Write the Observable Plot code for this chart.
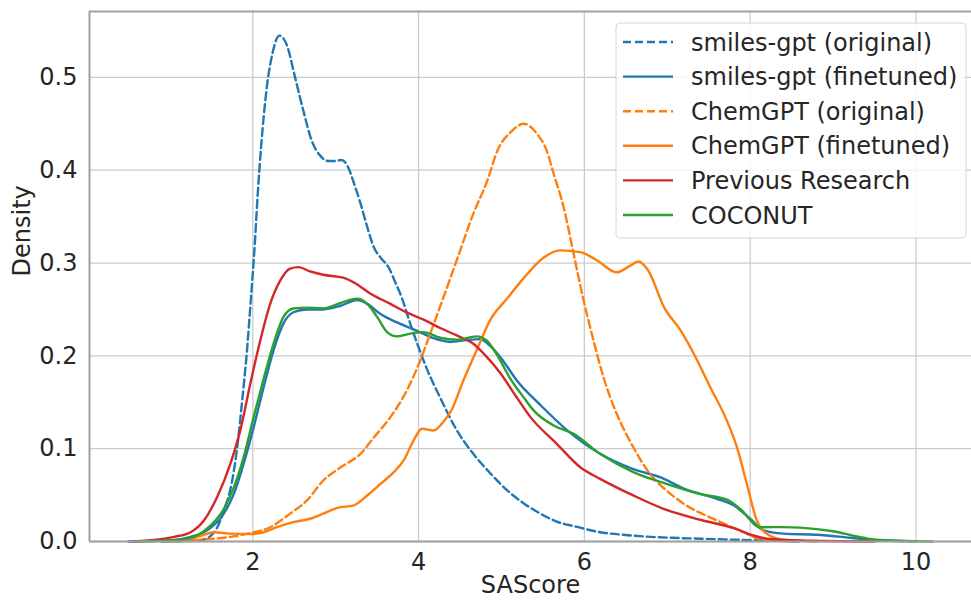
<!DOCTYPE html>
<html>
<head>
<meta charset="utf-8">
<script src="https://cdn.jsdelivr.net/npm/d3@7"></script>
<script src="https://cdn.jsdelivr.net/npm/@observablehq/plot@0.6"></script>
<style>
  html, body { margin: 0; padding: 0; background: #fff; }
  #chart { width: 971px; height: 601px; }
</style>
</head>
<body>
<div id="chart"></div>
<script>
// ---- data ----
const xLabel = "SAScore";
const yLabel = "Density";
const xTicks = [2, 4, 6, 8, 10];
const yTicks = [0, 0.1, 0.2, 0.3, 0.4, 0.5];
const seriesNames = ["smiles-gpt (original)", "smiles-gpt (finetuned)", "ChemGPT (original)", "ChemGPT (finetuned)", "Previous Research", "COCONUT"];
const seriesColors = ["#1f77b4", "#1f77b4", "#ff7f0e", "#ff7f0e", "#d62728", "#2ca02c"];
const seriesDashed = [true, false, true, false, false, false];

const smilesOriginal = [[0.9,0],[1.2,0.0005],[1.4,0.002],[1.55,0.012],[1.65,0.033],[1.75,0.065],[1.81,0.10],[1.87,0.15],[1.93,0.206],[1.98,0.265],[2.02,0.315],[2.06,0.375],[2.1,0.425],[2.17,0.49],[2.24,0.527],[2.32,0.545],[2.41,0.535],[2.51,0.50],[2.61,0.464],[2.71,0.432],[2.81,0.416],[2.91,0.41],[3.0,0.41],[3.07,0.411],[3.14,0.405],[3.22,0.386],[3.30,0.364],[3.38,0.339],[3.46,0.317],[3.54,0.306],[3.64,0.295],[3.72,0.279],[3.80,0.262],[3.88,0.24],[3.98,0.214],[4.10,0.186],[4.26,0.155],[4.46,0.12],[4.66,0.0945],[4.86,0.074],[5.07,0.055],[5.27,0.041],[5.47,0.030],[5.65,0.022],[5.9,0.016],[6.19,0.010],[6.5,0.007],[6.8,0.005],[7.4,0.003],[8.0,0.0015],[8.6,0]];

const smilesFinetuned = [[0.5,0],[1.0,0.001],[1.25,0.005],[1.45,0.012],[1.65,0.030],[1.77,0.051],[1.89,0.084],[2.01,0.123],[2.13,0.166],[2.25,0.206],[2.37,0.235],[2.49,0.247],[2.65,0.25],[2.85,0.25],[3.06,0.254],[3.26,0.26],[3.38,0.256],[3.54,0.245],[3.74,0.236],[3.98,0.227],[4.18,0.219],[4.38,0.215],[4.58,0.217],[4.74,0.218],[4.86,0.211],[5.0,0.197],[5.19,0.173],[5.47,0.147],[5.79,0.12],[6.19,0.0945],[6.59,0.078],[6.92,0.069],[7.20,0.057],[7.60,0.046],[7.80,0.039],[8.0,0.0245],[8.16,0.012],[8.40,0.0085],[8.81,0.0072],[9.21,0.004],[9.6,0.001],[10.0,0]];

const chemOriginal = [[1.0,0],[1.37,0.002],[1.73,0.005],[1.97,0.009],[2.21,0.0154],[2.45,0.030],[2.65,0.044],[2.85,0.0657],[3.06,0.080],[3.30,0.0945],[3.46,0.112],[3.66,0.134],[3.86,0.163],[4.02,0.195],[4.14,0.224],[4.30,0.263],[4.46,0.303],[4.66,0.353],[4.83,0.389],[4.95,0.421],[5.11,0.441],[5.27,0.45],[5.43,0.439],[5.55,0.42],[5.63,0.396],[5.75,0.36],[5.87,0.31],[5.99,0.26],[6.11,0.2166],[6.23,0.177],[6.39,0.1376],[6.59,0.1016],[6.79,0.073],[6.99,0.055],[7.20,0.0406],[7.60,0.0226],[7.92,0.010],[8.1,0.003],[8.5,0]];

const chemFinetuned = [[1.0,0],[1.2,0.002],[1.37,0.006],[1.53,0.010],[1.73,0.0085],[1.97,0.008],[2.13,0.010],[2.29,0.0154],[2.49,0.0208],[2.69,0.0245],[2.85,0.030],[3.02,0.0363],[3.22,0.039],[3.38,0.0496],[3.54,0.062],[3.70,0.0747],[3.82,0.0873],[3.94,0.109],[4.04,0.1214],[4.18,0.1196],[4.30,0.129],[4.40,0.142],[4.54,0.1735],[4.70,0.206],[4.86,0.238],[5.07,0.262],[5.27,0.284],[5.51,0.306],[5.71,0.3136],[5.95,0.3118],[6.15,0.303],[6.39,0.29],[6.55,0.297],[6.65,0.3017],[6.77,0.292],[6.96,0.2525],[7.16,0.2274],[7.32,0.2023],[7.52,0.166],[7.72,0.130],[7.84,0.1016],[7.96,0.062],[8.08,0.0226],[8.20,0.0083],[8.4,0.002],[8.8,0]];

const previousResearch = [[0.55,0],[1.05,0.005],[1.25,0.010],[1.41,0.0226],[1.57,0.048],[1.73,0.084],[1.85,0.12],[1.97,0.17],[2.09,0.2166],[2.21,0.256],[2.33,0.281],[2.45,0.294],[2.55,0.2956],[2.69,0.291],[2.85,0.2874],[3.10,0.284],[3.22,0.279],[3.42,0.267],[3.66,0.256],[3.86,0.2465],[4.06,0.239],[4.26,0.23],[4.46,0.222],[4.66,0.213],[4.78,0.203],[4.99,0.181],[5.17,0.157],[5.35,0.134],[5.67,0.105],[5.95,0.080],[6.19,0.0675],[6.59,0.0496],[6.99,0.034],[7.40,0.0234],[7.80,0.0144],[8.04,0.0065],[8.2,0.003],[8.6,0.001],[9.5,0]];

const coconut = [[0.6,0],[1.0,0.001],[1.25,0.004],[1.45,0.014],[1.65,0.035],[1.77,0.058],[1.89,0.091],[2.01,0.134],[2.13,0.175],[2.25,0.213],[2.37,0.242],[2.49,0.251],[2.65,0.252],[2.85,0.251],[3.06,0.257],[3.26,0.2615],[3.38,0.256],[3.50,0.242],[3.62,0.2256],[3.74,0.221],[3.90,0.224],[4.06,0.2256],[4.26,0.2195],[4.46,0.2173],[4.70,0.221],[4.82,0.2166],[4.94,0.202],[5.11,0.175],[5.27,0.155],[5.39,0.141],[5.63,0.125],[5.87,0.116],[6.19,0.0945],[6.59,0.0747],[6.99,0.062],[7.40,0.051],[7.72,0.045],[7.88,0.035],[8.12,0.0154],[8.40,0.0155],[8.6,0.015],[9.0,0.011],[9.29,0.0054],[9.5,0.002],[10.2,0]];

const seriesData = [smilesOriginal, smilesFinetuned, chemOriginal, chemFinetuned, previousResearch, coconut];

// ---- chart ----
const FONT = "DejaVu Sans";
const TEXT = "#262626";
const GRID = "#cccccc";
const SPINE = "#a0a0a0";
const DASH = "8,4";
const LW = 2.4;

const xDomain = [0.03, 10.67];
const yDomain = [0, 0.571];

const lineMarks = seriesData.map((pts, i) =>
  Plot.line(pts, {
    x: d => d[0],
    y: d => d[1],
    stroke: seriesColors[i],
    strokeWidth: LW,
    strokeDasharray: seriesDashed[i] ? DASH : null,
    curve: "monotone-x"
  })
);

const chart = Plot.plot({
  width: 971,
  height: 601,
  marginLeft: 89,
  marginRight: 0,
  marginTop: 11,
  marginBottom: 60,
  x: { domain: xDomain },
  y: { domain: yDomain },
  style: { fontFamily: FONT, fontSize: "24px", color: TEXT, background: "white", overflow: "visible" },
  marks: [
    Plot.gridX(xTicks, { stroke: GRID, strokeOpacity: 1, strokeWidth: 1.3 }),
    Plot.gridY(yTicks, { stroke: GRID, strokeOpacity: 1, strokeWidth: 1.3 }),
    ...lineMarks,
    Plot.ruleX([xDomain[0]], { stroke: SPINE, strokeWidth: 2 }),
    Plot.ruleY([yDomain[0]], { stroke: SPINE, strokeWidth: 2 }),
    Plot.ruleY([yDomain[1]], { stroke: SPINE, strokeWidth: 2 }),
    Plot.axisX(xTicks, { tickSize: 0, tickPadding: 11, fontSize: 24, fill: TEXT, label: null }),
    Plot.axisY(yTicks, { tickSize: 0, tickPadding: 12, fontSize: 24, fill: TEXT, tickFormat: d3.format(".1f"), label: null }),
    Plot.text([xLabel], { text: d => d, frameAnchor: "bottom", dy: 51, fontSize: 24, fill: TEXT }),
    Plot.text([yLabel], { text: d => d, frameAnchor: "left", rotate: -90, dx: -67, fontSize: 24, fill: TEXT })
  ]
});

document.getElementById("chart").appendChild(chart);

// ---- legend (upper right, matplotlib style) ----
const svg = d3.select(chart);
const lg = svg.append("g").attr("class", "legend").attr("text-anchor", "start");
const boxX = 616, boxY = 23, boxW = 350, boxH = 215;
lg.append("rect")
  .attr("x", boxX).attr("y", boxY).attr("width", boxW).attr("height", boxH)
  .attr("rx", 4).attr("ry", 4)
  .attr("fill", "white").attr("fill-opacity", 0.8)
  .attr("stroke", "#d6d6d6").attr("stroke-width", 1);
const rowY0 = boxY + 19, rowStep = 34.6;
seriesNames.forEach((name, i) => {
  const y = rowY0 + i * rowStep;
  lg.append("line")
    .attr("x1", boxX + 7).attr("x2", boxX + 57)
    .attr("y1", y).attr("y2", y)
    .attr("stroke", seriesColors[i]).attr("stroke-width", LW)
    .attr("stroke-dasharray", seriesDashed[i] ? DASH : null);
  lg.append("text")
    .attr("x", boxX + 75).attr("y", y).attr("dy", "0.36em")
    .attr("text-anchor", "start")
    .attr("font-family", FONT).attr("font-size", 24)
    .attr("fill", TEXT)
    .text(name);
});
</script>
</body>
</html>
